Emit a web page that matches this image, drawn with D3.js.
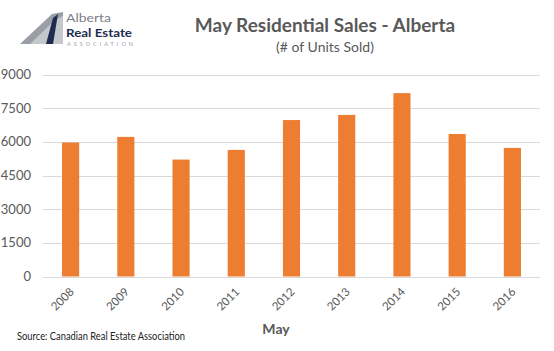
<!DOCTYPE html>
<html>
<head>
<meta charset="utf-8">
<script src="https://cdn.jsdelivr.net/npm/d3@7"></script>
<style>
  body { margin: 0; background: #fff; }
  svg { display: block; }
</style>
</head>
<body>
<div id="chart"></div>
<script>
// Data
const years = ["2008", "2009", "2010", "2011", "2012", "2013", "2014", "2015", "2016"];
const sales = [5970, 6220, 5210, 5640, 6970, 7200, 8170, 6350, 5730];
const yTicks = [0, 1500, 3000, 4500, 6000, 7500, 9000];

const width = 554, height = 351;
const margin = { top: 74, right: 14, bottom: 74, left: 43 };
const font = "Lato, 'Open Sans', sans-serif";

const svg = d3.select("#chart")
  .append("svg")
  .attr("width", width)
  .attr("height", height);

const x = d3.scaleBand()
  .domain(years)
  .range([margin.left, width - margin.right])
  .paddingInner(0.69)
  .paddingOuter(0.345);

const y = d3.scaleLinear()
  .domain([0, 9000])
  .range([height - margin.bottom - 0.5, margin.top + 0.5]);

// Gridlines
svg.append("g")
  .selectAll("line")
  .data(yTicks)
  .join("line")
  .attr("x1", margin.left)
  .attr("x2", width - margin.right)
  .attr("y1", d => Math.round(y(d)) + 0.5)
  .attr("y2", d => Math.round(y(d)) + 0.5)
  .attr("stroke", "#d9d9d9")
  .attr("stroke-width", 1);

// Y tick labels
svg.append("g")
  .selectAll("text")
  .data(yTicks)
  .join("text")
  .attr("x", 31)
  .attr("y", d => y(d) + 4.5)
  .attr("text-anchor", "end")
  .attr("font-family", font)
  .attr("font-size", "13px")
  .attr("fill", "#595959")
  .text(d => d);

// Bars
svg.append("g")
  .selectAll("rect")
  .data(years.map((yr, i) => ({ year: yr, value: sales[i] })))
  .join("rect")
  .attr("x", d => x(d.year))
  .attr("y", d => y(d.value))
  .attr("width", x.bandwidth())
  .attr("height", d => y(0) - y(d.value))
  .attr("fill", "#ed7d31");

// X labels (rotated)
svg.append("g")
  .selectAll("text")
  .data(years)
  .join("text")
  .attr("transform", d => `translate(${x(d) + x.bandwidth() / 2 + 4},${y(0) + 16}) rotate(-45)`)
  .attr("text-anchor", "end")
  .attr("font-family", font)
  .attr("font-size", "11.5px")
  .attr("fill", "#595959")
  .text(d => d);

// Axis title
svg.append("text")
  .attr("x", 276)
  .attr("y", 334)
  .attr("text-anchor", "middle")
  .attr("font-family", font)
  .attr("font-weight", "bold")
  .attr("font-size", "14px")
  .attr("fill", "#595959")
  .text("May");

// Title
svg.append("text")
  .attr("x", 325)
  .attr("y", 32)
  .attr("text-anchor", "middle")
  .attr("font-family", font)
  .attr("font-weight", "bold")
  .attr("font-size", "19px")
  .attr("fill", "#595959")
  .text("May Residential Sales - Alberta");

svg.append("text")
  .attr("x", 325)
  .attr("y", 52)
  .attr("text-anchor", "middle")
  .attr("font-family", font)
  .attr("font-size", "14px")
  .attr("fill", "#595959")
  .text("(# of Units Sold)");

// Source
svg.append("text")
  .attr("x", 17)
  .attr("y", 340)
  .attr("font-family", font)
  .attr("font-size", "10.5px")
  .attr("textLength", 168)
  .attr("lengthAdjust", "spacingAndGlyphs")
  .attr("fill", "#222")
  .text("Source: Canadian Real Estate Association");

// Logo
const logo = svg.append("g");
logo.append("path")
  .attr("d", "M20,44 L52,14 L63,12 L63,44 Z")
  .attr("fill", "#9a9ea6");
logo.append("path")
  .attr("d", "M30,44 L55,20 L63,16 L63,44 Z")
  .attr("fill", "#c4c7cc");
logo.append("path")
  .attr("d", "M46,44 L53,18 L58,14 L53,44 Z")
  .attr("fill", "#1e2d4f");
logo.append("text")
  .attr("x", 66).attr("y", 21.5)
  .attr("font-family", font)
  .attr("font-size", "12px")
  .attr("textLength", 45)
  .attr("lengthAdjust", "spacingAndGlyphs")
  .attr("fill", "#7c8089")
  .text("Alberta");
logo.append("text")
  .attr("x", 66).attr("y", 36.5)
  .attr("font-family", font)
  .attr("font-weight", "bold")
  .attr("font-size", "12px")
  .attr("textLength", 66)
  .attr("lengthAdjust", "spacingAndGlyphs")
  .attr("fill", "#1e2d4f")
  .text("Real Estate");
logo.append("text")
  .attr("x", 67).attr("y", 45.5)
  .attr("font-family", font)
  .attr("font-size", "5.5px")
  .attr("textLength", 66)
  .attr("lengthAdjust", "spacing")
  .attr("fill", "#9a9ea6")
  .text("ASSOCIATION");
</script>
</body>
</html>
